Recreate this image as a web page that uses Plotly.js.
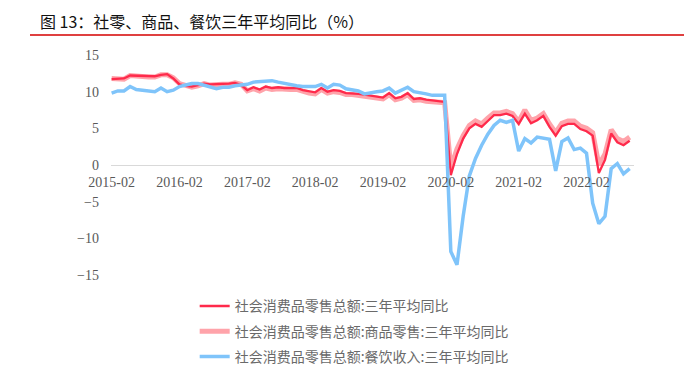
<!DOCTYPE html>
<html>
<head>
<meta charset="utf-8">
<script src="https://cdn.plot.ly/plotly-3.0.1.min.js"></script>
<style>html,body{margin:0;padding:0;background:#fff;}#chart{width:684px;height:388px;}</style>
</head>
<body>
<div id="chart"></div>
<script>
const months = [
"2015-02","2015-03","2015-04","2015-05","2015-06","2015-07","2015-08","2015-09","2015-10","2015-11","2015-12",
"2016-02","2016-03","2016-04","2016-05","2016-06","2016-07","2016-08","2016-09","2016-10","2016-11","2016-12",
"2017-02","2017-03","2017-04","2017-05","2017-06","2017-07","2017-08","2017-09","2017-10","2017-11","2017-12",
"2018-02","2018-03","2018-04","2018-05","2018-06","2018-07","2018-08","2018-09","2018-10","2018-11","2018-12",
"2019-02","2019-03","2019-04","2019-05","2019-06","2019-07","2019-08","2019-09","2019-10","2019-11","2019-12",
"2020-02","2020-03","2020-04","2020-05","2020-06","2020-07","2020-08","2020-09","2020-10","2020-11","2020-12",
"2021-02","2021-03","2021-04","2021-05","2021-06","2021-07","2021-08","2021-09","2021-10","2021-11","2021-12",
"2022-02","2022-03","2022-04","2022-05","2022-06","2022-07","2022-08","2022-09"];

const tickLabels = ["2015-02","2016-02","2017-02","2018-02","2019-02","2020-02","2021-02","2022-02"];

const totalRetail = [
11.7,11.7,11.8,12.2,12.2,12.1,12.1,12.1,12.3,12.4,11.8,
11.0,10.8,10.7,10.9,11.1,11.0,11.0,11.1,11.1,11.2,10.9,
10.2,10.6,10.3,10.7,10.5,10.6,10.5,10.5,10.5,10.2,10.0,
9.9,10.5,10.0,10.2,10.1,9.8,9.8,9.7,9.6,9.5,9.4,
9.2,9.8,9.1,9.3,9.8,9.0,9.1,8.9,8.8,8.8,8.6,
-1.4,1.5,3.6,5.0,5.6,5.2,6.0,6.8,6.8,7.0,6.7,
5.6,7.0,5.7,6.1,6.7,5.2,4.0,5.3,5.6,5.6,4.9,
4.6,4.0,-1.1,0.7,4.3,3.1,2.7,3.3];

const goodsRetail = [
11.8,11.8,11.7,12.2,12.1,12.1,12.0,12.0,12.3,12.3,11.9,
11.1,10.8,10.6,10.8,11.1,10.9,11.0,11.0,11.0,11.2,11.0,
10.1,10.4,10.1,10.5,10.3,10.4,10.3,10.3,10.3,10.0,9.8,
9.7,10.3,9.8,10.0,9.9,9.6,9.6,9.5,9.4,9.3,9.2,
9.0,9.6,8.9,9.1,9.6,8.8,8.9,8.7,8.6,8.6,8.5,
-0.4,2.2,4.0,5.4,6.0,5.6,6.4,7.1,7.1,7.3,7.0,
5.9,7.5,6.1,6.4,7.0,5.6,4.4,5.7,6.0,6.0,5.3,
5.0,4.4,0.0,1.5,4.8,3.6,3.2,3.8];

const cateringRevenue = [
9.8,10.1,10.1,10.7,10.3,10.2,10.1,10.0,10.5,10.0,10.2,
10.7,10.9,11.1,11.1,10.9,10.7,10.4,10.6,10.6,10.8,10.9,
11.0,11.3,11.4,11.5,11.5,11.3,11.1,10.9,10.8,10.7,10.7,
10.7,11.0,10.5,11.0,10.9,10.4,10.2,10.1,9.7,9.9,10.0,
10.1,10.5,9.8,10.2,10.6,10.0,9.9,9.7,9.5,9.5,9.5,
-11.8,-13.6,-7.0,-1.5,0.9,2.7,4.2,5.4,6.1,5.8,6.1,
1.9,3.6,3.0,3.8,3.7,3.5,-0.8,3.2,3.7,2.1,2.3,
1.6,-5.2,-8.0,-7.0,-0.5,0.2,-1.2,-0.5];

const seriesNames = [
"社会消费品零售总额:三年平均同比",
"社会消费品零售总额:商品零售:三年平均同比",
"社会消费品零售总额:餐饮收入:三年平均同比"];

const cjk = '"Noto Sans CJK SC", "Noto Sans", sans-serif';
const serif = '"Liberation Serif", "DejaVu Serif", serif';

const traces = [
  {x: months, y: goodsRetail, name: seriesNames[1], type: 'scatter', mode: 'lines',
   line: {color: '#FFA3AA', width: 5}, legendrank: 2, legendgroup: 'g2'},
  {x: months, y: totalRetail, name: seriesNames[0], type: 'scatter', mode: 'lines',
   line: {color: '#FF2A4B', width: 2.3}, legendrank: 1, legendgroup: 'g1'},
  {x: months, y: cateringRevenue, name: seriesNames[2], type: 'scatter', mode: 'lines',
   line: {color: '#7FC4FA', width: 3.5}, legendrank: 3, legendgroup: 'g3'}
];

const layout = {
  width: 684, height: 388,
  margin: {l: 111, r: 50, t: 55, b: 113},
  paper_bgcolor: '#fff', plot_bgcolor: '#fff',
  showlegend: true,
  title: {text: '图 13：社零、商品、餐饮三年平均同比（%）', x: 40/684, xanchor: 'left',
          xref: 'container', y: 1 - 22/388, yanchor: 'middle', yref: 'container',
          font: {family: cjk, size: 16, color: '#111'}},
  xaxis: {type: 'category', categoryorder: 'array', categoryarray: months,
          range: [-0.1, 84.7], tickmode: 'array', tickvals: tickLabels, ticktext: tickLabels,
          anchor: 'free', position: 0.5, showline: false, showgrid: false, zeroline: false,
          ticks: '', tickangle: 0, ticklabelstandoff: 7,
          tickfont: {family: serif, size: 14, color: '#595959'}},
  yaxis: {range: [-15, 15], dtick: 5, tick0: 0, showgrid: false, zeroline: true,
          zerolinecolor: '#D9D9D9', zerolinewidth: 1, showline: false, ticks: '',
          ticklabelstandoff: 11,
          tickfont: {family: serif, size: 14, color: '#595959'}},
  legend: {x: 0.16, xanchor: 'left', y: -0.07, yanchor: 'top', orientation: 'v',
           tracegroupgap: 4, bgcolor: 'rgba(0,0,0,0)',
           font: {family: cjk, size: 14, color: '#6a6a6a'}},
  shapes: [{type: 'line', xref: 'paper', yref: 'paper',
            x0: (30-111)/523, x1: (684-111)/523, y0: (275-35)/220, y1: (275-35)/220,
            line: {color: '#D40000', width: 1.5}}]
};

Plotly.newPlot('chart', traces, layout, {staticPlot: true, displayModeBar: false});
</script>
</body>
</html>
